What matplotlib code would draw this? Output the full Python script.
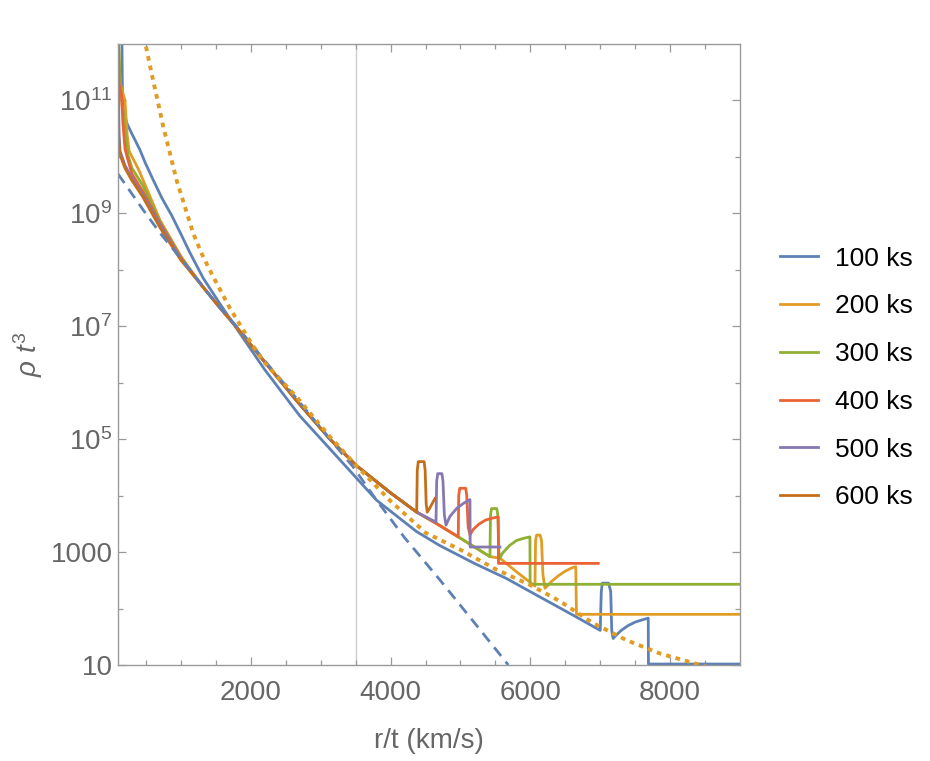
import numpy as np
import matplotlib
matplotlib.use("Agg")
import matplotlib.pyplot as plt
from matplotlib.ticker import FixedLocator, FixedFormatter

plt.rcParams['font.family'] = ['Liberation Sans', 'DejaVu Sans']
plt.rcParams['mathtext.fontset'] = 'custom'
plt.rcParams['mathtext.rm'] = 'Liberation Sans'
plt.rcParams['mathtext.it'] = 'Liberation Sans:italic'

# --- data (x = r/t in km/s, y = rho t^3) ---
labels = ["100 ks", "200 ks", "300 ks", "400 ks", "500 ks", "600 ks"]
colors = ["#5E81B5", "#E19C24", "#8FB032", "#EB6235", "#8778B3", "#C56E1A"]

x_100 = [155, 160, 167, 200, 229, 290, 347, 415, 489, 600, 729, 870, 1000, 1130, 1320, 1550, 1800, 2200, 2700,
         3276, 3800, 4374, 4707, 5200, 5660, 6100, 6614, 7000, 7015, 7030, 7120, 7150, 7165,
         7185, 7220, 7300, 7400, 7500, 7600, 7687, 7690, 9000]
y_100 = [2e12, 3.2e11, 7.6e10, 5.2e10, 3.9e10, 2.7e10, 1.95e10, 1.32e10, 7.9e9, 4.0e9, 1.86e9, 9.1e8, 4.3e8, 2.0e8, 7.1e7, 2.6e7, 9e6, 1.7e6, 2.6e5,
         4.3e4, 8.3e3, 2.3e3, 1.3e3, 6.3e2, 3.4e2, 1.7e2, 76, 41, 200, 282, 282, 200, 40,
         29.5, 33, 41, 50, 57.5, 63, 67.6, 10.4, 10.4]

x_200 = [100, 130, 200, 230, 260, 400, 700, 1000, 1300, 1550, 1800, 2179, 2656, 3133, 3500, 4000,
         4374, 4658, 4969, 5422, 5565, 5800, 6066, 6075, 6090, 6140, 6160, 6180, 6209, 6240, 6300,
         6400, 6500, 6600, 6650, 6660, 9000]
y_200 = [2e12, 2e11, 1e11, 2.5e10, 1.26e10, 5.8e9, 7.6e8, 1.74e8, 5.25e7, 2.19e7, 9.5e6, 2.5e6, 4.8e5, 1.0e5, 3.5e4, 1.12e4,
         5.1e3, 3.2e3, 1.86e3, 8.3e2, 7.8e2, 4.5e2, 2.5e2, 1.6e3, 2.0e3, 2.0e3, 1.6e3, 400,
         229, 250, 300, 380, 460, 530, 550, 79, 79]

x_300 = [100, 125, 160, 200, 240, 300, 450, 700, 1000, 1300, 1550, 1800, 2179, 2656, 3133, 3500,
         4000, 4374, 4658, 4969, 5422, 5430, 5445, 5520, 5535, 5550, 5565, 5600, 5700, 5800, 5900,
         5994, 5997, 9000]
y_300 = [2e12, 3e11, 8e10, 3.2e10, 1.1e10, 6.3e9, 3.2e9, 7.2e8, 1.66e8, 5.25e7, 2.19e7, 9.5e6, 2.5e6, 4.8e5, 1.0e5, 3.5e4,
         1.12e4, 5.1e3, 3.2e3, 1.86e3, 8.3e2, 4.5e3, 5.9e3, 5.9e3, 4.5e3, 1.0e3, 7.8e2, 9.5e2, 1.3e3, 1.6e3, 1.75e3,
         1.86e3, 269, 269]

x_400 = [100, 115, 150, 170, 200, 230, 300, 450, 700, 1000, 1300, 1550, 1800, 2179, 2656, 3133,
         3500, 4000, 4374, 4658, 4969, 4975, 4990, 5075, 5090, 5110, 5136, 5180, 5260, 5360, 5460,
         5541, 5544, 6972]
y_400 = [2e12, 2e11, 1.26e11, 4e10, 1.4e10, 1e10, 5e9, 2.5e9, 6.8e8, 1.62e8, 5.25e7, 2.19e7, 9.5e6, 2.5e6, 4.8e5, 1.0e5,
         3.5e4, 1.12e4, 5.1e3, 3.2e3, 1.86e3, 1.0e4, 1.35e4, 1.35e4, 1.0e4, 2.8e3, 2.0e3, 2.5e3, 3.1e3, 3.7e3, 4.0e3,
         4.2e3, 631, 631]

x_500 = [100, 107, 115, 130, 200, 300, 450, 700, 1000, 1300, 1550, 1800, 2179, 2656, 3133, 3500,
         4000, 4374, 4650, 4660, 4675, 4735, 4750, 4770, 4793, 4850, 4950, 5050, 5136, 5139, 5565]
y_500 = [2e12, 1.26e11, 2.5e10, 1.26e10, 7.1e9, 4.2e9, 2.2e9, 6.3e8, 1.55e8, 5.25e7, 2.19e7, 9.5e6, 2.5e6, 4.8e5, 1.0e5, 3.5e4,
         1.12e4, 5.1e3, 3.4e3, 1.8e4, 2.45e4, 2.45e4, 1.8e4, 4.5e3, 3.0e3, 4.3e3, 6.0e3, 7.4e3, 8.5e3, 1.23e3, 1.23e3]

x_600 = [100, 105, 112, 125, 200, 300, 450, 700, 1000, 1300, 1550, 1800, 2179, 2656, 3133, 3500,
         4000, 4374, 4382, 4397, 4480, 4495, 4510, 4525, 4560, 4600, 4635]
y_600 = [2e12, 1e11, 2e10, 1.12e10, 6.3e9, 3.8e9, 2.0e9, 5.6e8, 1.48e8, 5.25e7, 2.19e7, 9.5e6, 2.5e6, 4.8e5, 1.0e5, 3.5e4,
         1.12e4, 5.1e3, 2.8e4, 4.0e4, 4.0e4, 2.8e4, 7.0e3, 5.1e3, 6.0e3, 7.4e3, 8.9e3]

series_x = [x_100, x_200, x_300, x_400, x_500, x_600]
series_y = [y_100, y_200, y_300, y_400, y_500, y_600]

# blue dashed reference profile
x_dashed = [100, 450, 700, 1035, 1500, 1845, 2274, 2700, 3133, 3467, 3752, 4200, 4707, 5200, 5685]
y_dashed = [5.0e9, 1.2e9, 4.5e8, 1.4e8, 2.6e7, 8.5e6, 1.9e6, 4.5e5, 1.0e5, 3.2e4, 1.0e4, 1.8e3, 3.2e2, 56, 10]

# orange dotted reference profile
x_dotted = [500, 605, 677, 748, 844, 940, 1058, 1177, 1296, 1440, 1700, 2000, 2179, 2656, 3133,
            3500, 4000, 4500, 5000, 5500, 6000, 6423, 6900, 7377, 7854, 8522]
y_dotted = [9e11, 2.2e11, 8.7e10, 3.4e10, 1.15e10, 3.8e9, 1.3e9, 4.4e8, 1.95e8, 8.5e7, 2.1e7, 5.2e6, 2.4e6, 5.6e5, 1.1e5,
            3.5e4, 8e3, 2.2e3, 1.1e3, 5e2, 2.6e2, 1.35e2, 55, 27.5, 16, 9.3]

xticks = [2000, 4000, 6000, 8000]
xtick_labels = ["2000", "4000", "6000", "8000"]
yticks = [10, 1e3, 1e5, 1e7, 1e9, 1e11]
ytick_labels = ["10", "1000", r"$10^{5}$", r"$10^{7}$", r"$10^{9}$", r"$10^{11}$"]

# --- plot ---
fig = plt.figure(figsize=(9.30, 7.61), dpi=100)
ax = fig.add_axes([118 / 930, 96 / 761, 622 / 930, 621 / 761])

ax.axvline(3500, color="#cccccc", lw=1, zorder=0)

handles = []
for xs, ys, c, lab in zip(series_x, series_y, colors, labels):
    h, = ax.plot(xs, ys, color=c, lw=2, label=lab, solid_joinstyle="round")
    handles.append(h)

ax.plot(x_dashed, y_dashed, color=colors[0], lw=2, dashes=(4, 2.6))
ax.plot(x_dotted, y_dotted, color=colors[1], lw=2.8, dashes=(1.2, 1.3))

ax.set_yscale("log")
ax.set_xlim(100, 9000)
ax.set_ylim(10, 1e12)

ax.xaxis.set_major_locator(FixedLocator(xticks))
ax.xaxis.set_major_formatter(FixedFormatter(xtick_labels))
ax.xaxis.set_minor_locator(FixedLocator([v for v in range(500, 9000, 500) if v % 2000]))
ax.yaxis.set_major_locator(FixedLocator(yticks))
ax.yaxis.set_major_formatter(FixedFormatter(ytick_labels))
ax.yaxis.set_minor_locator(FixedLocator([100, 1e4, 1e6, 1e8, 1e10]))
ax.yaxis.set_minor_formatter(FixedFormatter([""] * 5))

frame_c = "#9a9a9a"
for s in ax.spines.values():
    s.set_color(frame_c)
    s.set_linewidth(1)
ax.tick_params(which="both", direction="in", top=True, right=True, color=frame_c,
               labelcolor="#666666", labelsize=20, width=0.9)
ax.tick_params(which="major", length=6)
ax.tick_params(which="minor", length=3.5)
ax.tick_params(axis="x", which="major", pad=11)
ax.tick_params(axis="y", which="major", pad=4)

ax.set_xlabel("r/t (km/s)", fontsize=20, color="#666666", labelpad=16)
ax.set_ylabel(r"$\rho\ t^3$", fontsize=20, color="#666666")
ax.yaxis.set_label_coords(-0.118, 0.5)

fig.legend(handles=handles, loc="center left", bbox_to_anchor=(756 / 930, 1 - 378 / 761),
           frameon=False, fontsize=19, handlelength=1.45, handletextpad=0.65, labelspacing=0.9)

fig.savefig("out.png", dpi=100)
